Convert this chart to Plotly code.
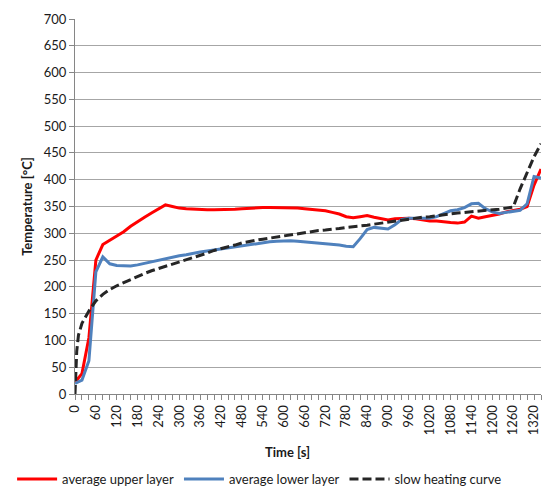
import plotly.graph_objects as go

time_s = [0, 20, 40, 60, 80, 100, 120, 140, 160, 180, 200, 220, 240, 260, 280, 300, 320, 340,
          360, 380, 400, 420, 440, 460, 480, 500, 520, 540, 560, 580, 600, 620, 640, 660, 680,
          700, 720, 740, 760, 780, 800, 820, 840, 860, 880, 900, 920, 940, 960, 980, 1000, 1020,
          1040, 1060, 1080, 1100, 1120, 1140, 1160, 1180, 1200, 1220, 1240, 1260, 1280, 1300,
          1320, 1340]

upper_layer = [22, 38, 105, 250, 279, 287, 294, 303, 313, 322, 330, 338, 346, 353, 350, 347, 346, 345,
               344, 344, 344, 344, 344, 345, 346, 347, 348, 348, 348, 348, 348, 348, 347, 346, 345,
               344, 342, 339, 336, 331, 329, 331, 333, 330, 327, 325, 327, 328, 328, 327, 325, 323,
               323, 321, 320, 319, 321, 332, 328, 331, 333, 336, 340, 343, 345, 350,
               390, 420]

lower_layer = [20, 26, 62, 228, 256, 243, 240, 239, 239, 241, 244, 247, 250, 253, 255, 258, 260, 263,
               265, 267, 269, 271, 273, 275, 277, 279, 281, 283, 284, 285, 286, 286, 285, 284, 283,
               282, 280, 279, 278, 276, 275, 290, 307, 311, 310, 308, 316, 326, 328, 328, 328, 328,
               331, 337, 342, 344, 348, 355, 356, 346, 340, 337, 339, 342, 343, 355,
               406, 403]

heating_time_s = [0, 5, 10, 20, 40, 60, 80, 100, 120, 140, 160, 180, 200, 220, 240, 260, 280, 300, 320, 340,
                  360, 380, 400, 420, 440, 460, 480, 500, 520, 540, 560, 580, 600, 620, 640, 660, 680,
                  700, 720, 740, 760, 780, 800, 820, 840, 860, 880, 900, 920, 940, 960, 980, 1000, 1020,
                  1040, 1060, 1080, 1100, 1120, 1140, 1160, 1180, 1200, 1220, 1240, 1260, 1280, 1300,
                  1320, 1340]

slow_heating = [0, 80, 110, 132, 155, 174, 186, 195, 202, 208, 214, 219, 225, 230, 234, 238, 242, 247, 251, 255,
                258, 263, 268, 271, 275, 278, 282, 285, 287, 289, 291, 293, 296, 298, 299, 301, 303,
                305, 306, 307, 309, 311, 312, 314, 315, 317, 319, 320, 322, 325, 327, 328, 330, 331,
                333, 335, 336, 338, 339, 340, 341, 343, 344, 345, 347, 349, 383, 412,
                443, 467]

x_tick_vals = [0, 60, 120, 180, 240, 300, 360, 420, 480, 540, 600, 660, 720, 780, 840, 900, 960,
               1020, 1080, 1140, 1200, 1260, 1320]
y_tick_vals = [0, 50, 100, 150, 200, 250, 300, 350, 400, 450, 500, 550, 600, 650, 700]

FONT = "Lato, 'Open Sans', sans-serif"
TXT = "#1a1a1a"

fig = go.Figure()
fig.add_trace(go.Scatter(x=time_s, y=upper_layer, mode="lines", name="average upper layer",
                         line=dict(color="#FF0000", width=3)))
fig.add_trace(go.Scatter(x=time_s, y=lower_layer, mode="lines", name="average lower layer",
                         line=dict(color="#4F81BD", width=3)))
fig.add_trace(go.Scatter(x=heating_time_s, y=slow_heating, mode="lines", name="slow heating curve",
                         line=dict(color="#262626", width=3, dash="9px,4px")))

fig.update_layout(
    width=558, height=487,
    margin=dict(l=75, r=17, t=19, b=93, autoexpand=False),
    paper_bgcolor="white", plot_bgcolor="white",
    font=dict(family=FONT, size=13, color=TXT),
    showlegend=True,
    legend=dict(orientation="h", x=-0.135, xanchor="left", y=-0.227, yanchor="middle",
                font=dict(size=13, color=TXT), itemwidth=40, tracegroupgap=0,
                bgcolor="rgba(0,0,0,0)"),
    xaxis=dict(range=[0, 1340], tickmode="array", tickvals=x_tick_vals,
               ticktext=[str(v) for v in x_tick_vals], tickangle=-90, automargin=False,
               showgrid=False, zeroline=False, showline=True, linecolor="#868686", linewidth=1,
               ticks="outside", ticklen=5, tickcolor="#868686",
               minor=dict(dtick=20, tick0=0, ticks="outside", ticklen=5, tickcolor="#868686"),
               tickfont=dict(size=13, color=TXT), fixedrange=True),
    yaxis=dict(range=[0, 700], tickmode="array", tickvals=y_tick_vals, automargin=False,
               showgrid=True, gridcolor="#A6A6A6", gridwidth=1, zeroline=False,
               showline=True, linecolor="#868686", linewidth=1,
               ticks="outside", ticklen=5, tickcolor="#868686",
               tickfont=dict(size=13, color=TXT),
               title=dict(text="<b>Temperature [°C]</b>", font=dict(size=13, color=TXT), standoff=8)),
    annotations=[dict(text="<b>Time [s]</b>", xref="paper", yref="paper", x=0.455, y=-0.155,
                      xanchor="center", yanchor="middle", showarrow=False,
                      font=dict(size=13, color=TXT))],
)

fig.write_html("out.html")
